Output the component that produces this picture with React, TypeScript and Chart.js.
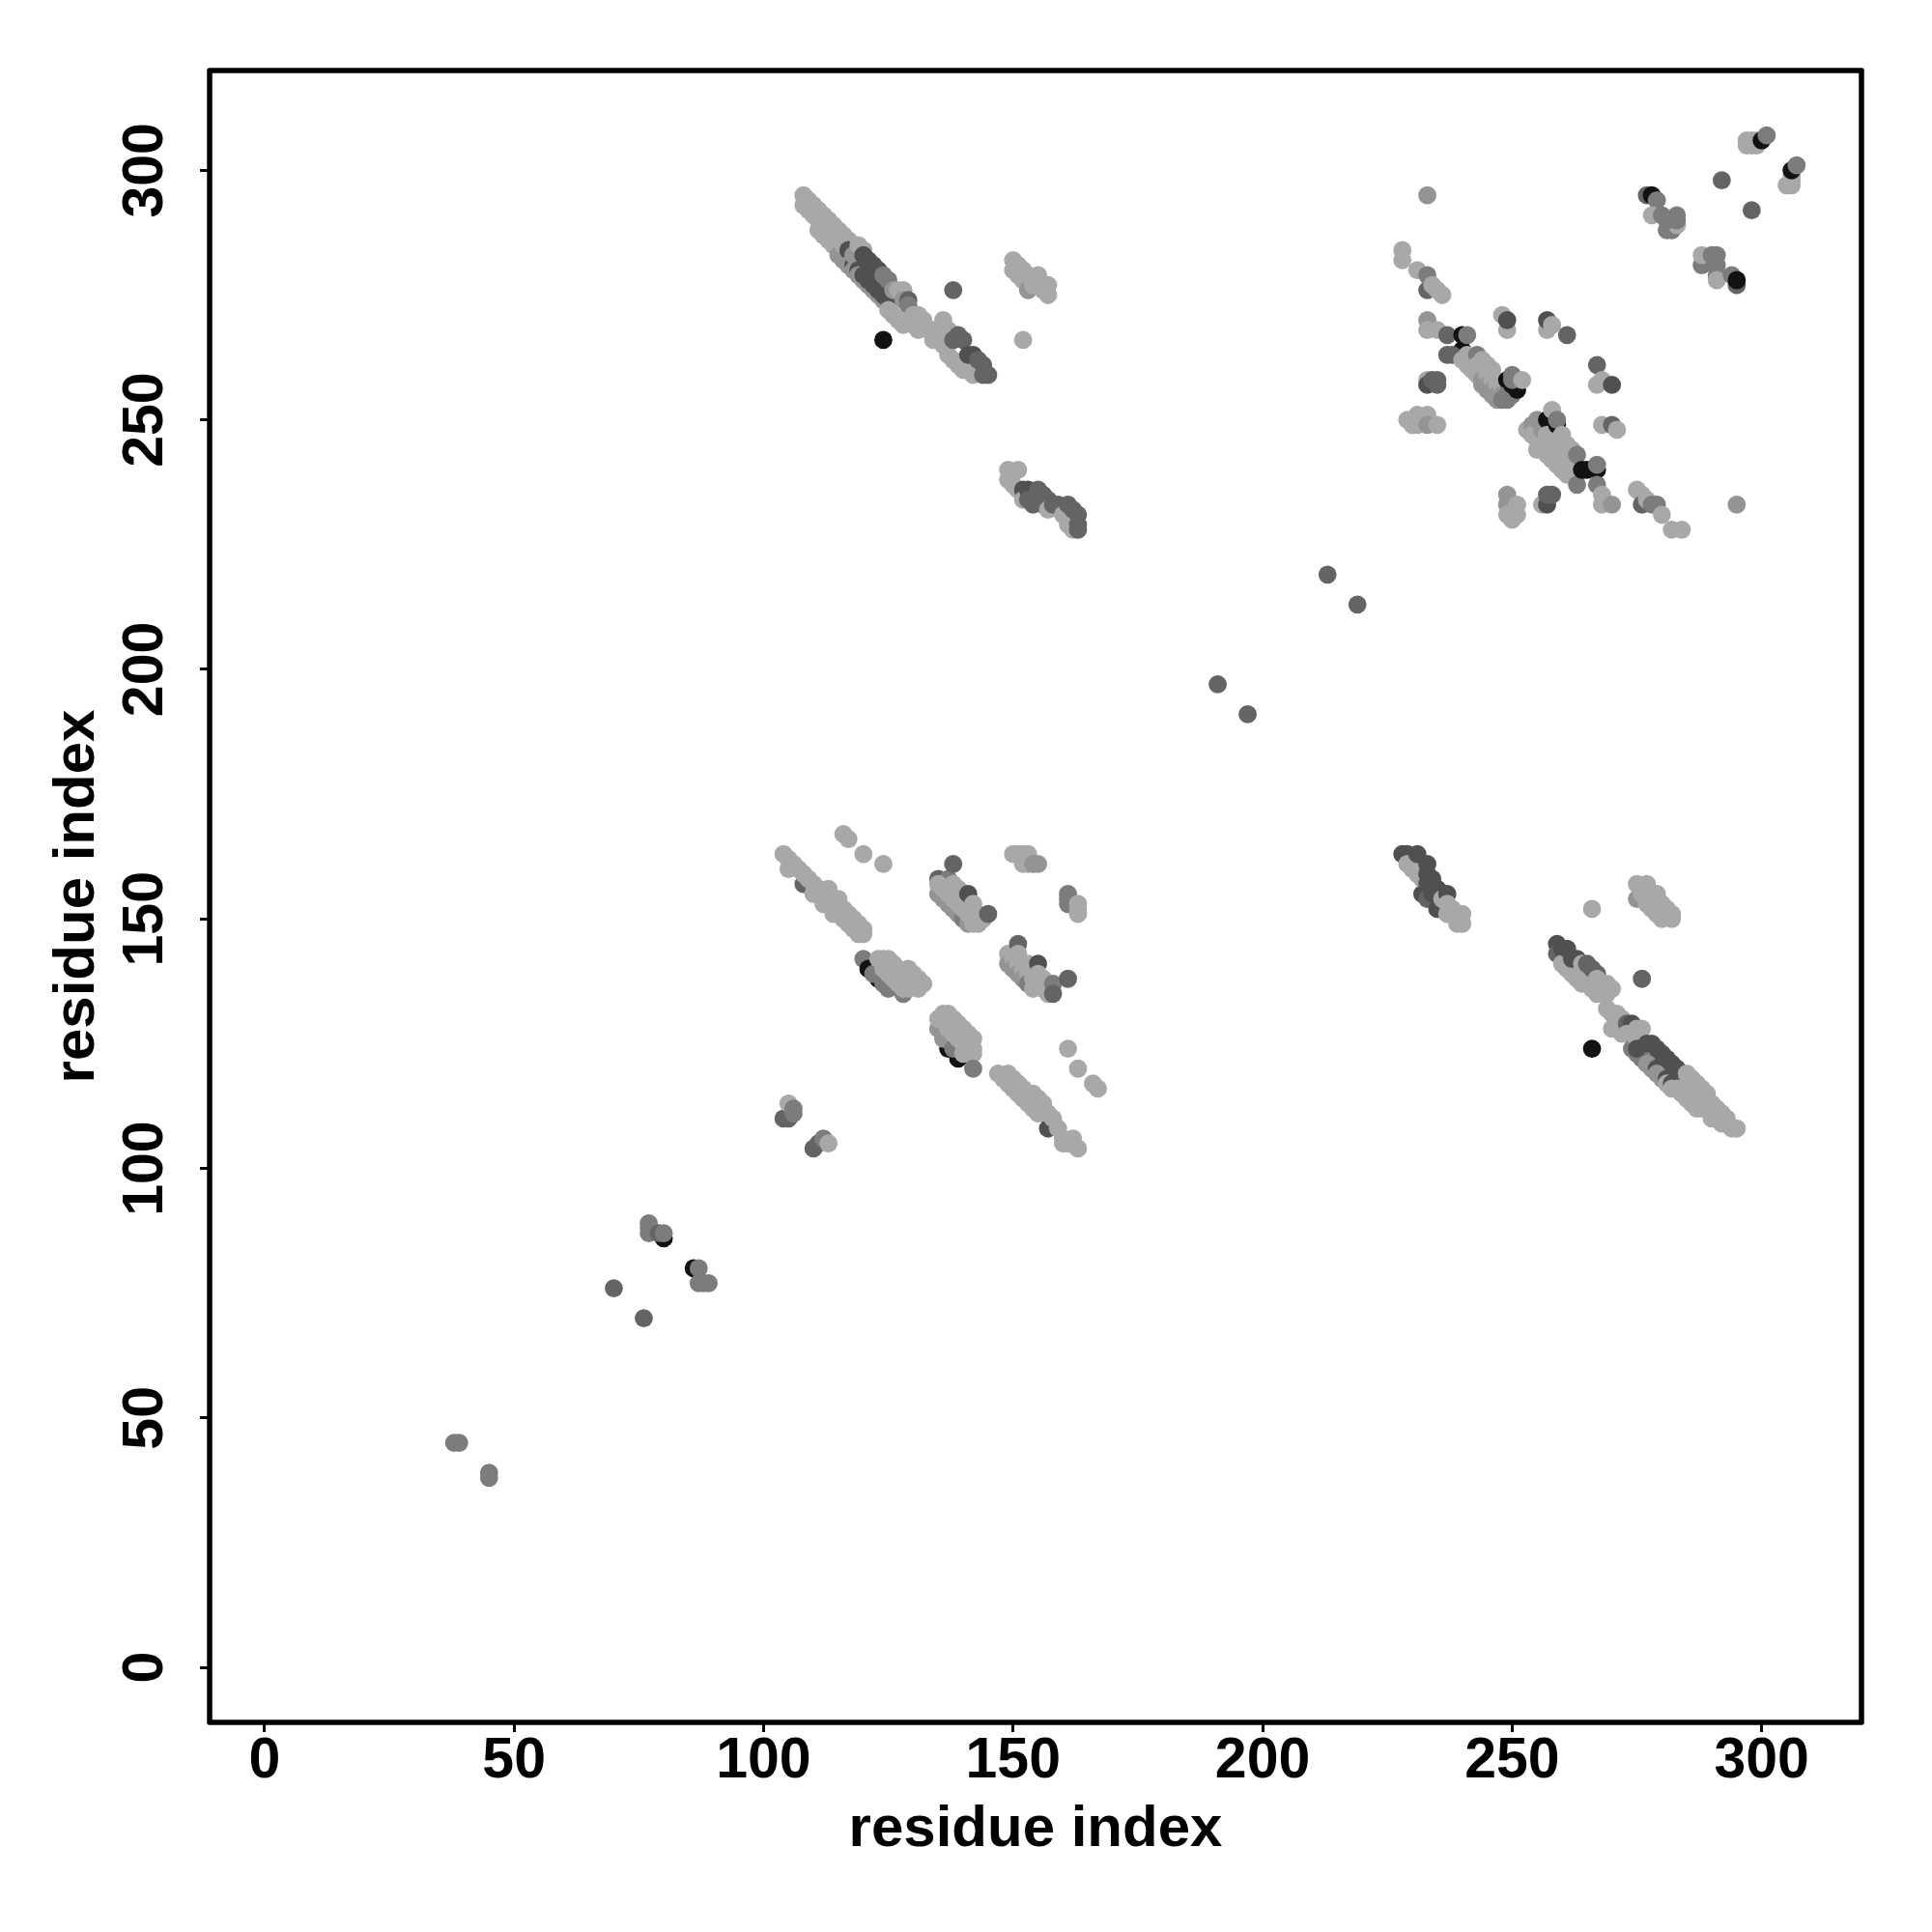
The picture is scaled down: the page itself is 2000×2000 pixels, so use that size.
import React, { useEffect, useRef } from "react";
import { Chart, registerables } from "chart.js";

Chart.register(...registerables);

const tickValues = [0, 50, 100, 150, 200, 250, 300];
const axisTitle = "residue index";

// grey levels
const L = 168, S = 148, M = 124, D = 100, K = 80, B = 18;

type P = number[];
const diagonalPairs: P[] = [
  [38,45,M],[39,45,M],[45,39,M],[45,38,M],[70,76,D],[76,70,D],
  [77,89,M],[77,88,M],[77,87,M],[80,86,B],[79,87,D],[80,87,M],
  [86,80,B],[87,80,M],[87,77,M],[88,77,M],[89,77,M],
  [191,197,D],[197,191,D],[213,219,D],[219,213,D],
  [104,110,D],[105,110,D],[105,113,L],[106,111,M],[106,112,M],
  [110,104,D],[111,105,D],[112,106,M],[113,105,L],
];
const strandTop: P[] = [
  [108,295,L],[108,293,L],[109,294,L],[109,292,L],[110,293,L],[110,291,L],[111,292,L],[111,290,L],[111,288,L],
  [112,291,L],[112,289,L],[112,287,L],[113,290,L],[113,288,L],[113,286,L],[114,289,L],[114,287,L],[114,285,L],
  [115,288,L],[115,286,L],[115,284,L],[115,283,S],[116,287,L],[116,285,L],[116,282,S],[117,286,L],[117,284,K],[117,281,S],
  [118,281,K],[118,280,S],[118,283,S],[119,285,L],[119,280,K],[119,279,S],[120,278,S],[120,279,K],[120,284,L],
  [121,277,S],[121,278,K],[122,276,S],[122,277,K],[123,275,S],[123,276,K],[124,274,S],[124,275,K],[125,274,K],
  [120,283,K],[121,282,K],[122,281,K],[123,280,K],[124,279,M],[125,278,M],[126,276,S],[125,272,L],[126,271,L],
  [127,276,L],[127,270,L],[128,276,L],[128,274,S],[128,269,L],[129,274,D],[129,273,M],[130,271,L],[130,269,L],[131,271,L],[131,268,L],
  [132,270,L],[133,268,L],[134,268,L],[134,266,L],[135,267,L],[136,270,L],[136,265,L],[137,268,L],[137,263,L],
  [138,262,L],[138,266,D],[139,261,L],[139,267,D],[140,266,D],[140,260,L],[141,260,L],[141,263,K],[142,263,K],[142,259,L],
  [143,262,D],[144,261,D],[144,259,D],[145,259,D],[124,266,B],[138,276,D],
];
const blockTopRight: P[] = [
  [150,282,L],[150,280,L],[151,281,L],[151,279,L],[152,280,L],[152,278,L],[153,279,L],[153,276,S],[154,277,L],[155,279,L],
  [155,277,L],[156,276,L],[157,277,L],[157,275,L],[152,266,L],
  [149,240,L],[149,238,L],[150,237,L],[151,240,L],[151,236,L],[152,236,K],[152,234,L],[153,236,K],[153,234,D],[154,233,D],
  [155,236,D],[155,234,D],[156,235,D],[156,233,D],[157,234,D],[157,232,L],[158,233,D],[159,233,D],[160,231,L],[161,233,D],[161,229,L],
  [162,232,D],[162,228,L],[163,231,D],[163,229,D],[163,228,D],
];
const sheetRightUpper: P[] = [
  [228,284,L],[228,282,L],[231,280,L],[233,279,M],[233,276,D],[234,277,L],[235,276,L],[236,275,L],[233,295,S],
  [233,270,S],[233,268,L],[235,268,L],[237,267,D],[240,267,B],[240,264,B],[241,267,M],[237,263,D],[238,263,D],
  [229,250,L],[230,250,L],[230,249,L],[231,251,L],[231,249,L],[233,251,L],[233,249,S],[235,249,L],
  [233,258,L],[233,257,K],[234,258,D],[235,258,D],[235,257,D],
  [248,271,L],[249,268,L],[249,270,K],[257,268,L],[257,270,K],[258,269,L],[261,267,D],
  [267,261,D],[267,257,L],[268,258,L],[270,257,K],[268,249,L],[270,249,D],[271,248,L],
  [240,262,L],[241,263,L],[241,261,L],[242,262,L],[242,260,L],[243,263,M],[243,261,L],[243,259,L],[244,262,L],[244,260,L],[244,258,S],[244,257,S],
  [245,261,L],[245,259,L],[245,257,S],[245,256,S],[246,260,L],[246,258,L],[246,256,S],[246,255,S],[247,257,L],[247,255,S],[247,254,S],[248,256,L],[248,255,S],[248,254,M],
  [249,254,M],[250,255,M],[249,258,B],[249,255,M],[250,257,B],[250,259,M],[251,256,B],[250,258,M],[252,258,L],
  [253,248,L],[254,249,S],[254,247,L],[255,250,S],[255,246,L],[255,244,L],[256,248,S],[256,245,L],[257,250,B],[257,247,L],[257,243,L],
  [258,252,L],[258,246,L],[258,242,L],[259,249,B],[259,250,M],[259,244,L],[259,241,L],[260,247,L],[260,243,L],[260,240,L],[261,245,L],[261,241,L],[261,239,L],
  [262,244,L],[262,240,L],[263,243,M],[263,239,L],[263,237,M],[264,240,B],[265,240,B],[267,240,B],[267,241,M],[267,237,M],[268,235,L],[268,233,L],[270,233,S],
  [249,235,S],[249,233,S],[249,231,L],[250,230,L],[251,233,L],[251,231,L],[256,233,L],[257,233,K],[257,235,D],[258,235,D],
  [275,236,L],[276,235,L],[276,233,D],[277,234,L],[278,233,M],[279,233,M],[280,231,L],[282,228,L],[284,228,L],[295,233,S],
];
const cornerTopRight: P[] = [
  [277,295,D],[278,295,B],[279,294,M],[278,291,L],[280,291,M],[281,288,M],[282,288,M],[283,289,L],[283,291,M],[283,290,M],[281,290,M],
  [288,281,M],[288,283,L],[290,283,M],[291,283,M],[291,281,M],[291,279,M],[291,278,L],[294,279,M],[295,277,D],[295,278,B],
  [292,298,D],[298,292,D],
  [297,306,L],[297,305,L],[298,306,L],[298,305,L],[299,306,L],[299,305,L],[300,306,B],[301,307,M],
  [306,297,L],[306,298,L],[306,299,L],[305,297,L],[306,300,B],[307,301,M],
];
const sheetLower: P[] = [
  [116,167,L],[117,166,L],[120,163,L],[124,161,L],
  [104,163,L],[105,162,L],[105,160,L],[106,161,L],[107,160,L],[108,157,D],[108,159,L],[109,158,L],[110,155,L],[110,157,L],[111,156,L],
  [112,153,L],[112,155,L],[113,154,L],[113,156,L],[114,151,L],[114,153,L],[115,152,L],[115,154,L],[116,150,L],[116,152,L],[117,149,L],[117,151,L],
  [118,148,L],[118,150,L],[119,147,L],[119,149,L],[120,147,L],[120,148,L],
  [120,142,M],[121,140,B],[123,138,B],[122,139,M],[124,137,M],[125,136,M],[128,135,M],[123,142,L],[124,142,L],[125,142,L],[124,140,L],[125,139,L],[126,138,L],
  [126,141,L],[127,137,L],[127,140,L],[128,136,L],[128,139,L],[129,140,L],[129,136,L],[130,139,L],[130,137,L],[131,138,L],[131,136,L],[132,137,L],
  [135,158,D],[137,158,M],[138,161,D],[135,155,S],[135,157,L],[136,154,S],[136,156,L],[137,153,S],[137,155,L],[138,152,S],[138,157,L],[138,154,L],
  [139,151,S],[139,153,L],[139,156,L],[140,150,M],[140,152,L],[140,155,L],[141,149,S],[141,151,L],[141,155,K],[142,149,L],[142,153,L],[143,149,L],[143,151,L],[144,150,L],[145,151,D],
  [149,143,L],[149,141,S],[150,142,L],[150,140,S],[151,145,D],[151,143,L],[151,141,L],[151,139,S],[152,140,L],[152,138,S],[153,141,L],[153,139,L],[153,137,M],
  [154,138,L],[154,136,L],[155,141,K],[155,139,L],[155,137,L],[156,136,L],[156,138,L],[157,137,L],[157,135,L],[158,137,M],[158,135,D],[161,138,D],
  [150,163,L],[151,163,L],[152,161,L],[152,163,L],[153,163,L],[153,161,L],[154,161,S],[155,161,S],
  [161,155,M],[161,153,M],[161,154,M],[163,153,L],[163,152,L],[163,151,L],
  [137,124,B],[139,122,B],[136,126,S],[135,128,S],[136,127,S],[138,124,M],[135,130,L],[136,131,L],[137,131,L],[137,128,L],[138,127,L],[138,130,L],[139,126,L],[139,129,L],[140,125,L],[140,128,L],
  [140,123,L],[141,127,L],[141,124,L],[142,126,L],[142,124,L],[142,123,L],[142,120,M],
  [147,119,L],[148,118,L],[149,117,L],[149,119,L],[150,116,L],[150,118,L],[151,115,L],[151,117,L],[152,114,L],[152,116,L],[153,113,L],[153,115,L],[154,112,L],[154,115,L],[155,111,L],[155,114,L],
  [156,113,L],[157,108,K],[157,111,L],[158,110,L],[159,108,L],[160,105,L],[160,106,L],[161,105,L],[162,106,L],[163,104,L],
  [161,124,L],[163,120,L],[166,117,L],[167,116,L],
];
const sheetLowerRight: P[] = [
  [228,163,K],[229,163,K],[229,161,L],[230,160,L],[231,163,K],[231,159,L],[232,155,K],[232,158,L],[233,161,K],[233,159,K],[233,157,K],[233,154,D],[234,155,K],[234,158,K],[235,152,K],[235,156,K],
  [236,155,K],[236,154,L],[237,155,K],[237,151,L],[237,153,L],[238,152,L],[239,150,L],[239,149,L],[240,151,L],[240,149,L],
  [266,152,L],[276,138,D],[266,124,B],
  [275,157,L],[277,157,L],[275,154,S],[276,155,L],[277,153,L],[278,152,L],[279,155,L],[279,151,L],[280,150,L],[280,153,L],[281,152,L],[282,150,L],[282,151,L],
  [259,145,K],[259,143,D],[260,144,K],[260,141,L],[261,144,K],[261,140,L],[262,139,L],[262,142,K],[263,142,K],[263,138,L],[264,137,L],[264,141,L],[265,141,D],[265,137,L],
  [266,140,D],[266,136,L],[267,139,D],[267,135,L],[267,138,L],[268,136,L],[269,137,L],[269,135,L],[270,136,L],
  [269,132,L],[270,131,L],[271,131,L],[272,130,L],[270,128,L],[271,128,L],[272,127,L],[273,129,D],[274,129,K],[273,127,L],
  [274,124,M],[275,123,M],[275,126,L],[276,122,M],[275,124,K],[277,121,K],[277,121,S],[278,120,S],[279,120,K],[279,119,S],[280,118,S],[281,118,K],[281,117,L],[282,117,K],[282,116,L],
  [275,128,L],[276,128,L],[277,125,K],[278,125,K],[279,124,K],[280,123,K],[281,122,K],[282,121,K],[283,120,K],
  [283,116,L],[284,115,L],[284,116,L],[285,119,L],[285,115,L],[285,114,L],[286,118,L],[286,114,L],[286,113,L],[287,117,L],[287,113,L],[287,112,L],
  [288,116,L],[288,112,L],[289,115,L],[289,112,L],[290,113,L],[290,110,L],[291,112,L],[291,110,L],[292,111,L],[292,109,L],[293,110,L],[293,109,L],[294,108,L],[295,108,L],
];

const contacts: P[] = [...diagonalPairs, ...sheetLower, ...strandTop, ...blockTopRight, ...sheetLowerRight, ...sheetRightUpper, ...cornerTopRight];

const grey = (v: number) => `rgb(${v},${v},${v})`;
const FONT = "'Liberation Sans', Arial, sans-serif";

export default function App() {
  const ref = useRef<HTMLCanvasElement>(null);
  useEffect(() => {
    const frame = {
      id: "frame",
      afterDatasetsDraw(chart: any) {
        const { ctx, chartArea: a } = chart;
        ctx.save();
        ctx.lineWidth = 5.5;
        ctx.strokeStyle = "#000";
        ctx.lineJoin = "round";
        ctx.strokeRect(a.left, a.top, a.right - a.left, a.bottom - a.top);
        ctx.restore();
      },
    };
    const axis = (title: any, tickExtra: any, fit: (s: any) => void) => ({
      type: "linear" as const,
      min: -11,
      max: 320,
      afterBuildTicks: (s: any) => {
        s.ticks = tickValues.map((value) => ({ value }));
      },
      afterFit: fit,
      border: { display: false },
      grid: { drawOnChartArea: false, drawTicks: true, tickLength: 10, tickWidth: 3, tickColor: "#000" },
      ticks: { color: "#000", font: { family: FONT, size: 59, weight: "bold" }, autoSkip: false, ...tickExtra },
      title: { display: true, text: axisTitle, color: "#000", font: { family: FONT, size: 60, weight: "bold" }, padding: title },
    });
    const chart = new Chart(ref.current!, {
      type: "scatter",
      data: {
        datasets: [
          {
            data: contacts.map((c) => ({ x: c[0], y: c[1] })),
            pointRadius: 9.4,
            pointBorderWidth: 0,
            pointBackgroundColor: contacts.map((c) => grey(c[2])),
            pointHoverRadius: 9.4,
          },
        ],
      },
      options: {
        responsive: false,
        animation: false,
        devicePixelRatio: 1,
        layout: { padding: { top: 73, right: 73, left: 0, bottom: 0 } },
        plugins: { legend: { display: false }, tooltip: { enabled: false } },
        scales: {
          x: axis({ bottom: 70, top: 0 }, { maxRotation: 0, minRotation: 0, padding: -5 }, (s) => { s.height = 217; }),
          y: axis({ top: 44, bottom: 0 }, { minRotation: 90, maxRotation: 90, padding: 6, crossAlign: "center" }, (s) => { s.width = 217; }),
        },
      },
      plugins: [frame],
    } as any);
    return () => chart.destroy();
  }, []);
  return <canvas ref={ref} width={2000} height={2000} style={{ position: "absolute", left: 0, top: 0, width: 2000, height: 2000 }} />;
}
